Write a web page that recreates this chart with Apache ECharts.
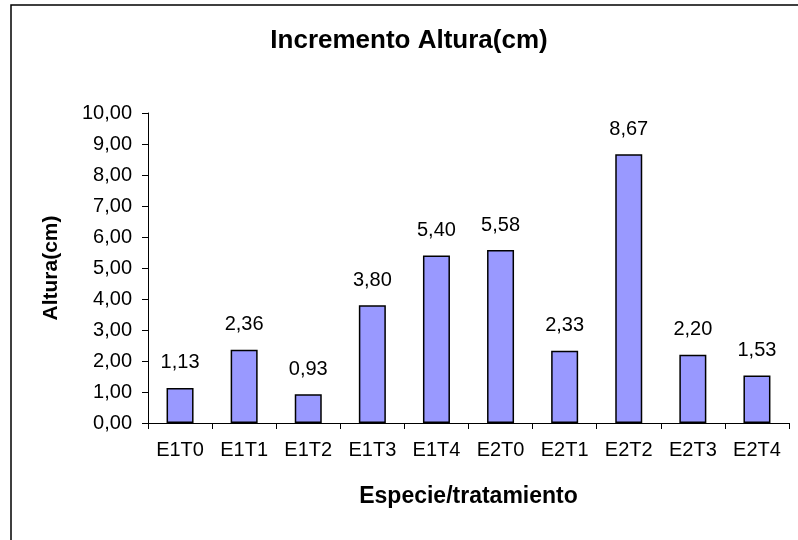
<!DOCTYPE html>
<html>
<head>
<meta charset="utf-8">
<script src="https://cdn.jsdelivr.net/npm/echarts@6/dist/echarts.min.js"></script>
<style>
html,body{margin:0;padding:0;background:#fff;}
#chart{width:798px;height:540px;}
</style>
</head>
<body>
<div id="chart"></div>
<script>
const categories = ['E1T0','E1T1','E1T2','E1T3','E1T4','E2T0','E2T1','E2T2','E2T3','E2T4'];
const values = [1.13, 2.36, 0.93, 3.80, 5.40, 5.58, 2.33, 8.67, 2.20, 1.53];
const titleText = 'Incremento Altura(cm)';
const xName = 'Especie/tratamiento';
const yName = 'Altura(cm)';

const fmt = v => Number(v).toFixed(2).replace('.', ',');
const FONT = '"Liberation Sans", Arial, sans-serif';

const chart = echarts.init(document.getElementById('chart'), null, {renderer: 'canvas'});
chart.setOption({
  animation: false,
  backgroundColor: '#fff',
  textStyle: {fontFamily: FONT, color: '#000'},
  title: {
    text: titleText,
    left: 409,
    top: 28,
    padding: 0,
    textAlign: 'center',
    textStyle: {fontFamily: FONT, fontSize: 26, fontWeight: 'bold', color: '#000'}
  },
  graphic: [{
    type: 'rect',
    shape: {x: 11, y: 5, width: 900, height: 700},
    style: {fill: null, stroke: '#000', lineWidth: 1.5},
    silent: true,
    z: 100
  }],
  grid: {left: 148, right: 9, top: 113, bottom: 117, containLabel: false},
  xAxis: {
    type: 'category',
    data: categories,
    name: xName,
    nameLocation: 'middle',
    nameGap: 62,
    nameTextStyle: {fontFamily: FONT, fontSize: 23, fontWeight: 'bold', color: '#000'},
    axisLine: {lineStyle: {color: '#000', width: 1}},
    axisTick: {show: true, length: 6, lineStyle: {color: '#000'}},
    axisLabel: {fontFamily: FONT, fontSize: 20, color: '#000', margin: 17, interval: 0},
    splitLine: {show: false}
  },
  yAxis: {
    type: 'value',
    min: 0,
    max: 10,
    interval: 1,
    name: yName,
    nameLocation: 'middle',
    nameRotate: 90,
    nameGap: 86,
    nameTextStyle: {fontFamily: FONT, fontSize: 21, fontWeight: 'bold', color: '#000'},
    axisLine: {show: true, lineStyle: {color: '#000', width: 1}},
    axisTick: {show: true, length: 6, lineStyle: {color: '#000'}},
    axisLabel: {fontFamily: FONT, fontSize: 20, color: '#000', margin: 16, formatter: v => fmt(v)},
    splitLine: {show: false}
  },
  series: [{
    type: 'bar',
    data: values,
    barWidth: 27,
    itemStyle: {color: '#9999FF', borderColor: '#000', borderWidth: 1.5},
    label: {
      show: true,
      position: 'top',
      distance: 15,
      fontFamily: FONT,
      fontSize: 20,
      color: '#000',
      formatter: p => fmt(p.value)
    }
  }]
});
</script>
</body>
</html>
